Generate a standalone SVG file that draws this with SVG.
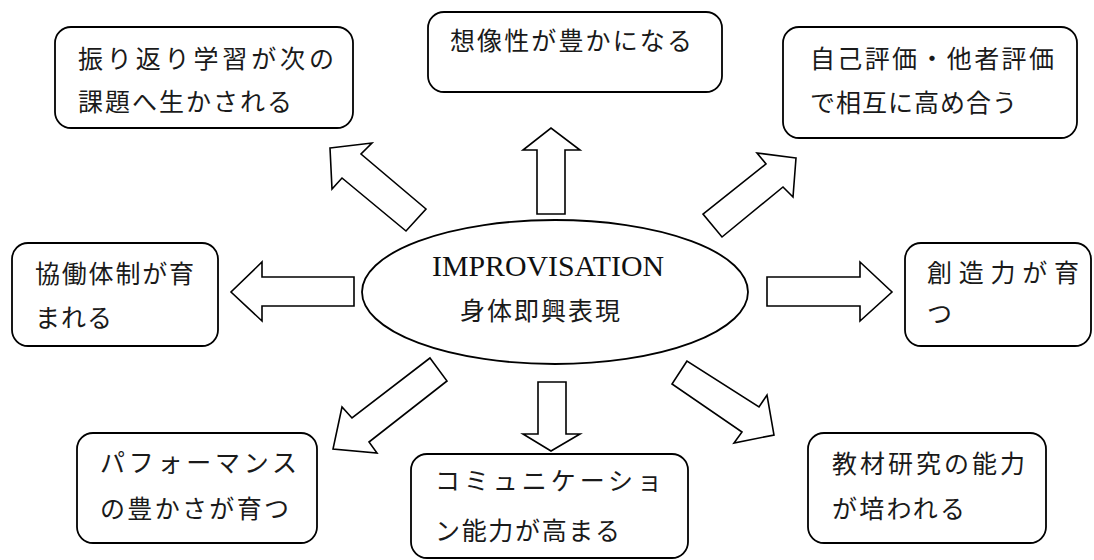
<svg xmlns="http://www.w3.org/2000/svg" width="1094" height="560" viewBox="0 0 1094 560">
<style>
.box{fill:#fff;stroke:#000;stroke-width:1.8}
.arr{fill:#fff;stroke:#000;stroke-width:1.6;stroke-linejoin:miter}
.jp{font-family:"Noto Sans CJK JP","Liberation Serif",serif;font-size:25px;fill:#1a1a1a}
.en{font-family:"Liberation Serif",serif;font-size:29px;fill:#111}
</style>
<rect width="1094" height="560" fill="#fff"/>
<g id="connectors">
<polygon class="arr" points="537,214 537,150 523,150 551,128 580,150 565,150 565,214"/>
<polygon class="arr" points="354,277 262,277 262,262 231,292 262,321 262,306 354,306"/>
<polygon class="arr" points="767,277 860,277 860,262 892,292 860,321 860,306 767,306"/>
<polygon class="arr" points="538,382 566,382 566,434 580,434 551,451 523,434 538,434"/>
<polygon class="arr" points="330,148 372,143 361,154 426,209 406,231 342,178 332,189"/>
<polygon class="arr" points="796,158 757,153 766,164 703,214 722,237 783,187 793,197"/>
<polygon class="arr" points="430,358 447,381 369,442 377,453 333,449 342,407 352,418"/>
<polygon class="arr" points="687,361 672,384 742,432 734,443 774,435 767,395 759,407"/>
</g>
<g id="center">
<ellipse class="box" cx="555" cy="292" rx="193" ry="72"/>
<text class="en" x="432" y="276" textLength="232" lengthAdjust="spacingAndGlyphs">IMPROVISATION</text>
<text class="jp" x="460" y="320" textLength="160" lengthAdjust="spacing">身体即興表現</text>
</g>
<g id="n1">
<rect class="box" x="55" y="27" width="298" height="101" rx="16"/>
<text class="jp" x="78" y="68" textLength="256" lengthAdjust="spacing">振り返り学習が次の</text>
<text class="jp" x="78" y="111" textLength="214" lengthAdjust="spacing">課題へ生かされる</text>
</g>
<g id="n2">
<rect class="box" x="428" y="12" width="294" height="80" rx="16"/>
<text class="jp" x="450" y="50" textLength="242" lengthAdjust="spacing">想像性が豊かになる</text>
</g>
<g id="n3">
<rect class="box" x="783" y="27" width="294" height="111" rx="16"/>
<text class="jp" x="810" y="68" textLength="244" lengthAdjust="spacing">自己評価・他者評価</text>
<text class="jp" x="810" y="112" textLength="207" lengthAdjust="spacing">で相互に高め合う</text>
</g>
<g id="n4">
<rect class="box" x="12" y="243" width="206" height="103" rx="16"/>
<text class="jp" x="35" y="283" textLength="159" lengthAdjust="spacing">協働体制が育</text>
<text class="jp" x="35" y="327" textLength="77" lengthAdjust="spacing">まれる</text>
</g>
<g id="n5">
<rect class="box" x="905" y="243" width="186" height="103" rx="16"/>
<text class="jp" x="927" y="282" textLength="152" lengthAdjust="spacing">創造力が育</text>
<text class="jp" x="927" y="323">つ</text>
</g>
<g id="n6">
<rect class="box" x="77" y="433" width="240" height="110" rx="16"/>
<text class="jp" x="100" y="472" textLength="197" lengthAdjust="spacing">パフォーマンス</text>
<text class="jp" x="100" y="518" textLength="189" lengthAdjust="spacing">の豊かさが育つ</text>
</g>
<g id="n7">
<rect class="box" x="411" y="454" width="277" height="104" rx="16"/>
<text class="jp" x="435" y="490" textLength="227" lengthAdjust="spacing">コミュニケーショ</text>
<text class="jp" x="435" y="540" textLength="185" lengthAdjust="spacing">ン能力が高まる</text>
</g>
<g id="n8">
<rect class="box" x="808" y="433" width="238" height="110" rx="16"/>
<text class="jp" x="832" y="473" textLength="193" lengthAdjust="spacing">教材研究の能力</text>
<text class="jp" x="832" y="518" textLength="133" lengthAdjust="spacing">が培われる</text>
</g>
</svg>
